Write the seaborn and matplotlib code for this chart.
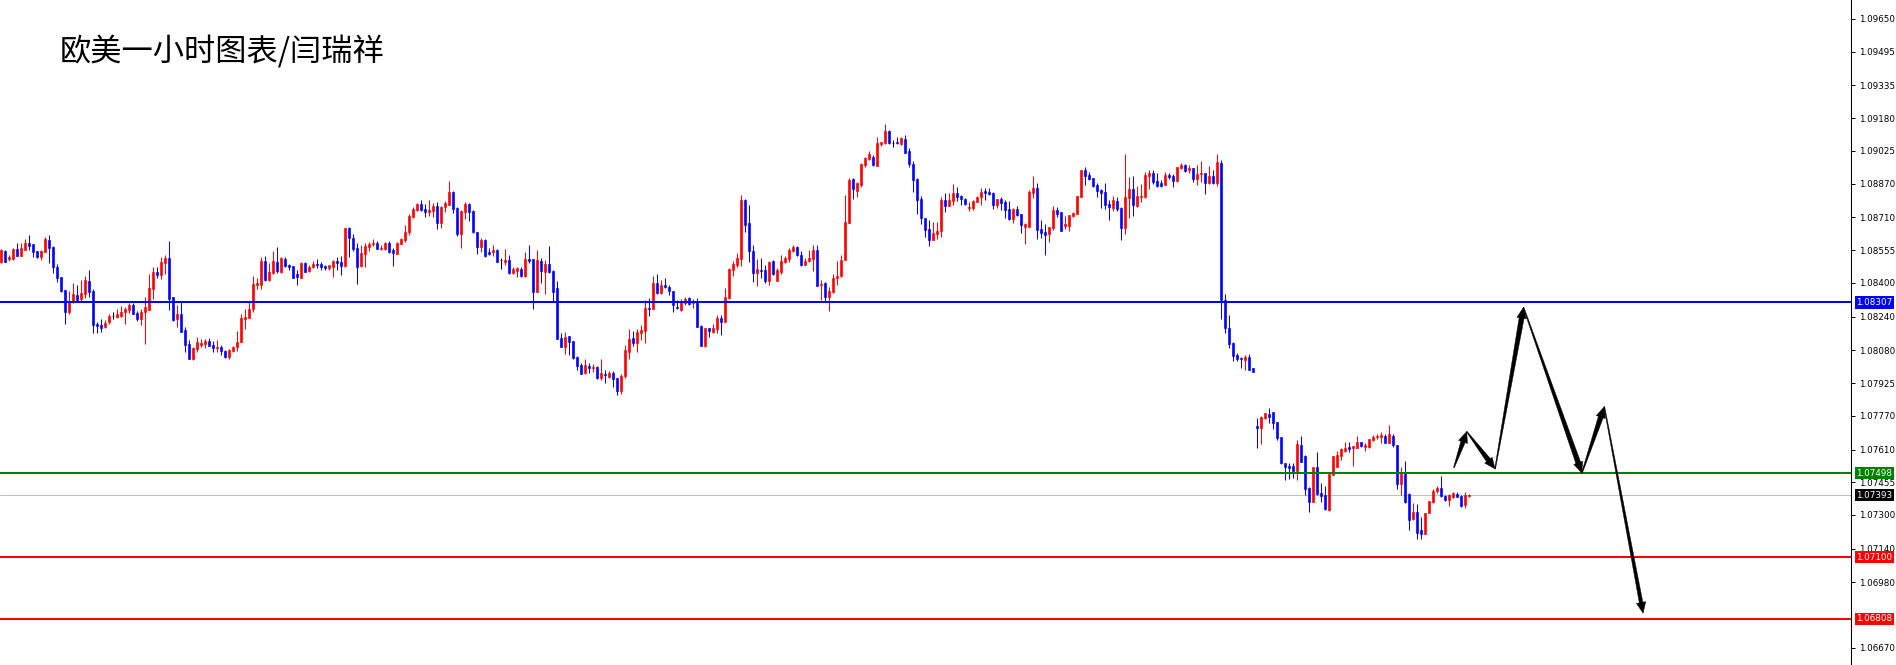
import numpy as np
import matplotlib
matplotlib.use("Agg")
import matplotlib.pyplot as plt
from matplotlib.patches import Polygon
from matplotlib.transforms import IdentityTransform, blended_transform_factory
import seaborn as sns

# EURUSD H1 candles
opens = [
    1.08500, 1.08552, 1.08511, 1.08512, 1.08560, 1.08527, 1.08555, 1.08587, 1.08582, 1.08550,
    1.08523, 1.08547, 1.08602, 1.08571, 1.08476, 1.08429, 1.08365, 1.08260, 1.08310, 1.08342,
    1.08321, 1.08346, 1.08410, 1.08361, 1.08207, 1.08199, 1.08192, 1.08212, 1.08242, 1.08239,
    1.08242, 1.08263, 1.08271, 1.08294, 1.08258, 1.08228, 1.08260, 1.08271, 1.08372, 1.08451,
    1.08437, 1.08492, 1.08516, 1.08332, 1.08228, 1.08252, 1.08176, 1.08109, 1.08038, 1.08086,
    1.08106, 1.08109, 1.08122, 1.08105, 1.08092, 1.08095, 1.08078, 1.08048, 1.08078, 1.08094,
    1.08121, 1.08230, 1.08231, 1.08275, 1.08391, 1.08391, 1.08503, 1.08413, 1.08448, 1.08500,
    1.08451, 1.08512, 1.08485, 1.08479, 1.08441, 1.08424, 1.08492, 1.08455, 1.08473, 1.08489,
    1.08487, 1.08481, 1.08468, 1.08476, 1.08503, 1.08497, 1.08479, 1.08662, 1.08613, 1.08564,
    1.08479, 1.08538, 1.08571, 1.08582, 1.08587, 1.08560, 1.08561, 1.08588, 1.08555, 1.08538,
    1.08585, 1.08602, 1.08639, 1.08713, 1.08745, 1.08773, 1.08748, 1.08735, 1.08740, 1.08764,
    1.08685, 1.08757, 1.08771, 1.08832, 1.08753, 1.08629, 1.08737, 1.08773, 1.08741, 1.08640,
    1.08571, 1.08602, 1.08546, 1.08547, 1.08557, 1.08506, 1.08498, 1.08508, 1.08448, 1.08457,
    1.08465, 1.08432, 1.08512, 1.08511, 1.08358, 1.08501, 1.08452, 1.08489, 1.08455, 1.08376,
    1.08139, 1.08097, 1.08147, 1.08124, 1.08049, 1.08010, 1.07974, 1.08005, 1.07997, 1.08002,
    1.07951, 1.07970, 1.07955, 1.07974, 1.07948, 1.07888, 1.07960, 1.08073, 1.08138, 1.08116,
    1.08163, 1.08173, 1.08282, 1.08275, 1.08399, 1.08353, 1.08388, 1.08380, 1.08359, 1.08286,
    1.08271, 1.08302, 1.08327, 1.08302, 1.08309, 1.08195, 1.08100, 1.08184, 1.08166, 1.08179,
    1.08231, 1.08212, 1.08326, 1.08460, 1.08484, 1.08512, 1.08794, 1.08681, 1.08550, 1.08448,
    1.08463, 1.08460, 1.08408, 1.08503, 1.08408, 1.08449, 1.08498, 1.08514, 1.08553, 1.08569,
    1.08530, 1.08484, 1.08504, 1.08514, 1.08555, 1.08388, 1.08397, 1.08334, 1.08356, 1.08421,
    1.08432, 1.08506, 1.08681, 1.08890, 1.08836, 1.08863, 1.08958, 1.08986, 1.08997, 1.08955,
    1.09057, 1.09061, 1.09119, 1.09064, 1.09069, 1.09057, 1.09081, 1.09024, 1.08963, 1.08892,
    1.08797, 1.08707, 1.08655, 1.08602, 1.08632, 1.08645, 1.08792, 1.08764, 1.08789, 1.08825,
    1.08811, 1.08797, 1.08756, 1.08756, 1.08784, 1.08805, 1.08835, 1.08830, 1.08825, 1.08768,
    1.08797, 1.08783, 1.08749, 1.08702, 1.08749, 1.08726, 1.08666, 1.08666, 1.08824, 1.08849,
    1.08655, 1.08639, 1.08631, 1.08659, 1.08745, 1.08735, 1.08669, 1.08670, 1.08716, 1.08726,
    1.08806, 1.08934, 1.08911, 1.08895, 1.08863, 1.08839, 1.08830, 1.08773, 1.08756, 1.08787,
    1.08753, 1.08661, 1.08803, 1.08844, 1.08764, 1.08808, 1.08808, 1.08907, 1.08920, 1.08882,
    1.08873, 1.08863, 1.08911, 1.08904, 1.08884, 1.08942, 1.08956, 1.08934, 1.08944, 1.08890,
    1.08914, 1.08920, 1.08874, 1.08906, 1.08874, 1.08970, 1.08318, 1.08184, 1.08116, 1.08057,
    1.08044, 1.08033, 1.08049, 1.07997, 1.07722, 1.07714, 1.07761, 1.07780, 1.07787, 1.07741,
    1.07668, 1.07548, 1.07531, 1.07531, 1.07506, 1.07632, 1.07580, 1.07427, 1.07359, 1.07529,
    1.07403, 1.07395, 1.07324, 1.07490, 1.07526, 1.07580, 1.07603, 1.07624, 1.07616, 1.07619,
    1.07645, 1.07624, 1.07624, 1.07656, 1.07668, 1.07671, 1.07675, 1.07643, 1.07675, 1.07632,
    1.07445, 1.07494, 1.07400, 1.07280, 1.07316, 1.07229, 1.07210, 1.07308, 1.07359, 1.07414,
    1.07427, 1.07392, 1.07371, 1.07387, 1.07400, 1.07392, 1.07348, 1.07389,
]
highs = [
    1.08558, 1.08555, 1.08531, 1.08563, 1.08587, 1.08587, 1.08606, 1.08626, 1.08582, 1.08550,
    1.08555, 1.08615, 1.08626, 1.08574, 1.08489, 1.08429, 1.08365, 1.08361, 1.08400, 1.08389,
    1.08413, 1.08432, 1.08460, 1.08369, 1.08215, 1.08228, 1.08223, 1.08252, 1.08260, 1.08278,
    1.08290, 1.08286, 1.08305, 1.08305, 1.08267, 1.08278, 1.08334, 1.08441, 1.08476, 1.08473,
    1.08523, 1.08531, 1.08599, 1.08332, 1.08294, 1.08307, 1.08192, 1.08128, 1.08097, 1.08141,
    1.08133, 1.08132, 1.08138, 1.08124, 1.08128, 1.08105, 1.08081, 1.08087, 1.08102, 1.08171,
    1.08250, 1.08274, 1.08307, 1.08432, 1.08421, 1.08523, 1.08527, 1.08492, 1.08552, 1.08571,
    1.08520, 1.08523, 1.08489, 1.08479, 1.08460, 1.08498, 1.08497, 1.08484, 1.08503, 1.08512,
    1.08498, 1.08484, 1.08484, 1.08508, 1.08523, 1.08527, 1.08662, 1.08666, 1.08629, 1.08587,
    1.08577, 1.08587, 1.08593, 1.08606, 1.08599, 1.08580, 1.08593, 1.08598, 1.08563, 1.08591,
    1.08610, 1.08674, 1.08726, 1.08760, 1.08779, 1.08792, 1.08773, 1.08792, 1.08776, 1.08783,
    1.08765, 1.08789, 1.08882, 1.08836, 1.08760, 1.08745, 1.08784, 1.08779, 1.08745, 1.08640,
    1.08610, 1.08606, 1.08563, 1.08577, 1.08561, 1.08516, 1.08560, 1.08531, 1.08473, 1.08476,
    1.08476, 1.08544, 1.08579, 1.08514, 1.08555, 1.08517, 1.08508, 1.08574, 1.08460, 1.08408,
    1.08163, 1.08165, 1.08150, 1.08125, 1.08053, 1.08018, 1.08038, 1.08018, 1.08015, 1.08005,
    1.08038, 1.07986, 1.07983, 1.07980, 1.07948, 1.07970, 1.08105, 1.08179, 1.08171, 1.08179,
    1.08198, 1.08318, 1.08327, 1.08433, 1.08441, 1.08413, 1.08421, 1.08388, 1.08362, 1.08318,
    1.08321, 1.08334, 1.08331, 1.08321, 1.08329, 1.08198, 1.08188, 1.08187, 1.08206, 1.08247,
    1.08247, 1.08376, 1.08468, 1.08504, 1.08539, 1.08816, 1.08798, 1.08767, 1.08577, 1.08511,
    1.08516, 1.08484, 1.08503, 1.08508, 1.08468, 1.08534, 1.08527, 1.08566, 1.08577, 1.08574,
    1.08553, 1.08516, 1.08555, 1.08577, 1.08579, 1.08413, 1.08403, 1.08378, 1.08443, 1.08501,
    1.08531, 1.08816, 1.08898, 1.08895, 1.08879, 1.08969, 1.08997, 1.09026, 1.09005, 1.09092,
    1.09069, 1.09152, 1.09124, 1.09076, 1.09092, 1.09089, 1.09100, 1.09037, 1.08977, 1.08895,
    1.08811, 1.08707, 1.08697, 1.08688, 1.08689, 1.08808, 1.08825, 1.08824, 1.08868, 1.08855,
    1.08816, 1.08803, 1.08783, 1.08792, 1.08811, 1.08849, 1.08850, 1.08847, 1.08828, 1.08797,
    1.08808, 1.08792, 1.08787, 1.08756, 1.08764, 1.08727, 1.08685, 1.08839, 1.08907, 1.08874,
    1.08697, 1.08678, 1.08664, 1.08764, 1.08757, 1.08735, 1.08716, 1.08721, 1.08737, 1.08811,
    1.08934, 1.08950, 1.08926, 1.08895, 1.08871, 1.08843, 1.08871, 1.08792, 1.08811, 1.08808,
    1.08760, 1.09010, 1.08903, 1.08906, 1.08860, 1.08868, 1.08926, 1.08934, 1.08934, 1.08922,
    1.08887, 1.08926, 1.08922, 1.08914, 1.08950, 1.08969, 1.08961, 1.08958, 1.08945, 1.08958,
    1.08977, 1.08922, 1.08953, 1.08934, 1.09010, 1.08981, 1.08346, 1.08247, 1.08120, 1.08065,
    1.08049, 1.08060, 1.08062, 1.07997, 1.07761, 1.07769, 1.07785, 1.07806, 1.07787, 1.07741,
    1.07668, 1.07548, 1.07545, 1.07548, 1.07656, 1.07675, 1.07583, 1.07431, 1.07529, 1.07596,
    1.07453, 1.07438, 1.07493, 1.07580, 1.07605, 1.07616, 1.07648, 1.07648, 1.07627, 1.07675,
    1.07648, 1.07640, 1.07662, 1.07679, 1.07682, 1.07695, 1.07684, 1.07727, 1.07682, 1.07632,
    1.07526, 1.07556, 1.07403, 1.07355, 1.07352, 1.07289, 1.07311, 1.07368, 1.07423, 1.07438,
    1.07485, 1.07393, 1.07400, 1.07411, 1.07411, 1.07395, 1.07408, 1.07398,
]
lows = [
    1.08495, 1.08498, 1.08504, 1.08508, 1.08527, 1.08527, 1.08555, 1.08555, 1.08523, 1.08517,
    1.08508, 1.08544, 1.08492, 1.08448, 1.08402, 1.08358, 1.08207, 1.08252, 1.08305, 1.08313,
    1.08315, 1.08326, 1.08334, 1.08163, 1.08163, 1.08168, 1.08187, 1.08204, 1.08230, 1.08231,
    1.08236, 1.08204, 1.08258, 1.08252, 1.08217, 1.08201, 1.08109, 1.08271, 1.08323, 1.08422,
    1.08419, 1.08441, 1.08271, 1.08218, 1.08192, 1.08168, 1.08072, 1.08037, 1.08034, 1.08073,
    1.08097, 1.08092, 1.08102, 1.08070, 1.08072, 1.08060, 1.08046, 1.08040, 1.08072, 1.08078,
    1.08121, 1.08182, 1.08231, 1.08263, 1.08369, 1.08369, 1.08408, 1.08410, 1.08441, 1.08448,
    1.08448, 1.08476, 1.08463, 1.08424, 1.08389, 1.08424, 1.08451, 1.08451, 1.08470, 1.08468,
    1.08460, 1.08460, 1.08463, 1.08427, 1.08460, 1.08437, 1.08476, 1.08522, 1.08552, 1.08395,
    1.08476, 1.08474, 1.08550, 1.08576, 1.08558, 1.08557, 1.08555, 1.08542, 1.08479, 1.08536,
    1.08582, 1.08591, 1.08626, 1.08705, 1.08741, 1.08741, 1.08713, 1.08716, 1.08713, 1.08655,
    1.08661, 1.08737, 1.08768, 1.08729, 1.08621, 1.08564, 1.08700, 1.08692, 1.08634, 1.08536,
    1.08547, 1.08520, 1.08531, 1.08527, 1.08498, 1.08465, 1.08484, 1.08444, 1.08441, 1.08429,
    1.08429, 1.08429, 1.08495, 1.08277, 1.08358, 1.08400, 1.08345, 1.08446, 1.08310, 1.08133,
    1.08094, 1.08062, 1.08060, 1.08038, 1.07986, 1.07970, 1.07970, 1.07974, 1.07978, 1.07945,
    1.07939, 1.07926, 1.07950, 1.07907, 1.07868, 1.07875, 1.07950, 1.08037, 1.08102, 1.08073,
    1.08128, 1.08116, 1.08244, 1.08275, 1.08346, 1.08345, 1.08375, 1.08340, 1.08260, 1.08274,
    1.08267, 1.08294, 1.08297, 1.08282, 1.08192, 1.08100, 1.08097, 1.08144, 1.08160, 1.08160,
    1.08152, 1.08212, 1.08323, 1.08433, 1.08476, 1.08481, 1.08642, 1.08498, 1.08403, 1.08386,
    1.08421, 1.08400, 1.08389, 1.08436, 1.08408, 1.08444, 1.08492, 1.08500, 1.08547, 1.08527,
    1.08479, 1.08482, 1.08500, 1.08457, 1.08386, 1.08318, 1.08310, 1.08266, 1.08354, 1.08389,
    1.08429, 1.08506, 1.08681, 1.08797, 1.08808, 1.08855, 1.08950, 1.08982, 1.08953, 1.08953,
    1.09050, 1.09057, 1.09057, 1.09042, 1.09057, 1.09053, 1.09013, 1.08950, 1.08832, 1.08726,
    1.08678, 1.08618, 1.08576, 1.08602, 1.08609, 1.08618, 1.08737, 1.08764, 1.08768, 1.08787,
    1.08770, 1.08770, 1.08741, 1.08745, 1.08781, 1.08770, 1.08792, 1.08816, 1.08749, 1.08756,
    1.08745, 1.08705, 1.08697, 1.08685, 1.08716, 1.08637, 1.08583, 1.08666, 1.08803, 1.08609,
    1.08613, 1.08531, 1.08593, 1.08650, 1.08713, 1.08647, 1.08656, 1.08647, 1.08713, 1.08726,
    1.08806, 1.08863, 1.08887, 1.08855, 1.08808, 1.08753, 1.08748, 1.08697, 1.08740, 1.08740,
    1.08602, 1.08631, 1.08705, 1.08716, 1.08760, 1.08784, 1.08800, 1.08844, 1.08866, 1.08855,
    1.08855, 1.08863, 1.08892, 1.08855, 1.08879, 1.08937, 1.08926, 1.08922, 1.08879, 1.08863,
    1.08879, 1.08820, 1.08866, 1.08868, 1.08860, 1.08228, 1.08163, 1.08089, 1.08030, 1.08030,
    1.07994, 1.07989, 1.07986, 1.07978, 1.07619, 1.07637, 1.07754, 1.07735, 1.07708, 1.07656,
    1.07542, 1.07466, 1.07469, 1.07474, 1.07466, 1.07550, 1.07395, 1.07316, 1.07359, 1.07395,
    1.07359, 1.07324, 1.07321, 1.07487, 1.07526, 1.07561, 1.07600, 1.07600, 1.07532, 1.07616,
    1.07624, 1.07603, 1.07616, 1.07652, 1.07659, 1.07643, 1.07640, 1.07640, 1.07624, 1.07422,
    1.07395, 1.07355, 1.07229, 1.07276, 1.07185, 1.07188, 1.07210, 1.07308, 1.07355, 1.07403,
    1.07387, 1.07368, 1.07344, 1.07379, 1.07384, 1.07338, 1.07335, 1.07384,
]
closes = [
    1.08555, 1.08500, 1.08523, 1.08560, 1.08527, 1.08564, 1.08587, 1.08576, 1.08547, 1.08522,
    1.08552, 1.08607, 1.08566, 1.08476, 1.08424, 1.08361, 1.08263, 1.08310, 1.08346, 1.08318,
    1.08350, 1.08413, 1.08358, 1.08199, 1.08196, 1.08187, 1.08211, 1.08244, 1.08242, 1.08250,
    1.08264, 1.08277, 1.08294, 1.08252, 1.08228, 1.08263, 1.08286, 1.08376, 1.08451, 1.08437,
    1.08500, 1.08517, 1.08323, 1.08226, 1.08252, 1.08168, 1.08106, 1.08038, 1.08089, 1.08119,
    1.08116, 1.08125, 1.08102, 1.08090, 1.08095, 1.08078, 1.08049, 1.08081, 1.08097, 1.08121,
    1.08233, 1.08239, 1.08275, 1.08394, 1.08400, 1.08503, 1.08413, 1.08451, 1.08503, 1.08455,
    1.08516, 1.08481, 1.08476, 1.08424, 1.08429, 1.08492, 1.08451, 1.08476, 1.08489, 1.08482,
    1.08473, 1.08468, 1.08482, 1.08503, 1.08495, 1.08479, 1.08659, 1.08613, 1.08560, 1.08476,
    1.08539, 1.08574, 1.08585, 1.08588, 1.08561, 1.08566, 1.08587, 1.08547, 1.08539, 1.08588,
    1.08607, 1.08640, 1.08716, 1.08748, 1.08773, 1.08745, 1.08735, 1.08745, 1.08764, 1.08685,
    1.08757, 1.08776, 1.08830, 1.08749, 1.08631, 1.08740, 1.08773, 1.08737, 1.08640, 1.08571,
    1.08602, 1.08527, 1.08538, 1.08557, 1.08500, 1.08506, 1.08508, 1.08448, 1.08465, 1.08468,
    1.08432, 1.08512, 1.08503, 1.08358, 1.08508, 1.08457, 1.08489, 1.08449, 1.08358, 1.08133,
    1.08097, 1.08144, 1.08121, 1.08045, 1.08005, 1.07970, 1.08010, 1.07997, 1.08002, 1.07948,
    1.07972, 1.07963, 1.07974, 1.07945, 1.07888, 1.07960, 1.08081, 1.08136, 1.08117, 1.08166,
    1.08176, 1.08279, 1.08275, 1.08400, 1.08350, 1.08389, 1.08378, 1.08359, 1.08293, 1.08280,
    1.08315, 1.08323, 1.08301, 1.08309, 1.08192, 1.08102, 1.08185, 1.08171, 1.08185, 1.08231,
    1.08215, 1.08334, 1.08465, 1.08489, 1.08516, 1.08792, 1.08675, 1.08550, 1.08448, 1.08465,
    1.08457, 1.08408, 1.08498, 1.08444, 1.08460, 1.08501, 1.08519, 1.08555, 1.08571, 1.08530,
    1.08482, 1.08504, 1.08517, 1.08555, 1.08386, 1.08392, 1.08334, 1.08361, 1.08421, 1.08432,
    1.08506, 1.08686, 1.08887, 1.08843, 1.08871, 1.08963, 1.08990, 1.09008, 1.08956, 1.09064,
    1.09065, 1.09119, 1.09061, 1.09064, 1.09061, 1.09084, 1.09016, 1.08961, 1.08887, 1.08792,
    1.08705, 1.08650, 1.08602, 1.08637, 1.08645, 1.08792, 1.08764, 1.08792, 1.08825, 1.08805,
    1.08797, 1.08775, 1.08760, 1.08787, 1.08808, 1.08830, 1.08827, 1.08819, 1.08768, 1.08797,
    1.08778, 1.08745, 1.08700, 1.08749, 1.08721, 1.08673, 1.08678, 1.08830, 1.08849, 1.08650,
    1.08637, 1.08626, 1.08664, 1.08745, 1.08726, 1.08647, 1.08677, 1.08721, 1.08730, 1.08811,
    1.08934, 1.08907, 1.08890, 1.08858, 1.08836, 1.08824, 1.08768, 1.08760, 1.08792, 1.08749,
    1.08661, 1.08805, 1.08844, 1.08768, 1.08811, 1.08811, 1.08911, 1.08920, 1.08876, 1.08858,
    1.08860, 1.08911, 1.08901, 1.08884, 1.08948, 1.08956, 1.08929, 1.08944, 1.08892, 1.08915,
    1.08920, 1.08873, 1.08906, 1.08871, 1.08972, 1.08318, 1.08184, 1.08109, 1.08054, 1.08037,
    1.08037, 1.08049, 1.07989, 1.07978, 1.07714, 1.07766, 1.07782, 1.07766, 1.07738, 1.07664,
    1.07545, 1.07529, 1.07524, 1.07506, 1.07637, 1.07553, 1.07422, 1.07359, 1.07529, 1.07400,
    1.07392, 1.07327, 1.07493, 1.07580, 1.07585, 1.07611, 1.07619, 1.07613, 1.07627, 1.07648,
    1.07627, 1.07632, 1.07659, 1.07668, 1.07675, 1.07679, 1.07643, 1.07682, 1.07632, 1.07445,
    1.07494, 1.07359, 1.07276, 1.07316, 1.07213, 1.07210, 1.07308, 1.07366, 1.07414, 1.07427,
    1.07390, 1.07371, 1.07395, 1.07403, 1.07387, 1.07344, 1.07395, 1.07393,
]

# support / resistance levels and the current bid
level_prices = [1.08307, 1.07498, 1.07100, 1.06808]
level_colors = ["#0000ff", "#008000", "#ff0000", "#ff0000"]
bid_price = 1.07393

tick_prices = [1.09650, 1.09495, 1.09335, 1.09180, 1.09025, 1.08870, 1.08710, 1.08555,
               1.08400, 1.08240, 1.08080, 1.07925, 1.07770, 1.07610, 1.07455, 1.07300,
               1.07140, 1.06980, 1.06670]

# drawn forecast path (bar number, price)
path_bars = [363.3, 366.5, 373.6, 380.7, 395.3, 400.9, 410.6]
path_prices = [1.07524, 1.07695, 1.07518, 1.08284, 1.07498, 1.07813, 1.06834]
# tail width near the head of each arrow leg, in pixels
path_widths = [4.5, 5.0, 5.0, 5.0, 5.0, 3.6]

title = "欧美一小时图表/闫瑞祥"

sns.set_theme(style="white")
plt.rcParams["font.family"] = ["DejaVu Sans"]

W, H = 1896, 665
fig = plt.figure(figsize=(W / 100, H / 100), dpi=100)
ax = fig.add_axes([0, 0, 1851 / W, 1])
ax.set_facecolor("white")

o = np.array(opens)
hi = np.array(highs)
lo = np.array(lows)
c = np.array(closes)
x = np.arange(len(o))
cols = np.where(c > o, "#ff0000", np.where(c < o, "#0000ff", "#000000"))

ax.vlines(x, lo, hi, colors=cols, linewidth=0.75, zorder=2)
ax.bar(x, np.abs(c - o), bottom=np.minimum(o, c), width=0.6, color=cols,
       edgecolor=cols, linewidth=0.45, zorder=2)

ax.set_xlim(-0.175, 462.575)
ax.set_ylim(1.06589, 1.09740)

for p, col in zip(level_prices, level_colors):
    ax.axhline(p, color=col, linewidth=1.45, zorder=3)
ax.axhline(bid_price, color="#c0c0c0", linewidth=0.75, zorder=1)

# axis on the right, like the terminal
for s in ["left", "top", "bottom"]:
    ax.spines[s].set_visible(False)
ax.spines["right"].set_color("black")
ax.spines["right"].set_linewidth(0.75)
ax.set_xticks([])
ax.yaxis.tick_right()
ax.set_yticks(tick_prices)
ax.set_yticklabels([f"{t:.5f}" for t in tick_prices])
ax.tick_params(axis="y", direction="out", length=3, width=0.7, pad=2.5,
               labelsize=6.3, colors="black")
ax.grid(False)

trans = blended_transform_factory(ax.transAxes, ax.transData)
box_items = list(zip(level_prices, level_colors)) + [(bid_price, "#000000")]
for p, col in box_items:
    ax.text(1.0028, p, f"{p:.5f}", transform=trans, ha="left", va="center",
            fontsize=6.3, color="white", clip_on=False, zorder=6,
            bbox=dict(boxstyle="square,pad=0.18", fc=col, ec="none"))

fig.text(60 / W, 1 - 52 / H, title, ha="left", va="center", fontsize=22.5,
         color="black", family=["Noto Sans CJK SC", "DejaVu Sans"])


def tapered_arrow(p0, p1, w_end, head_len=11.0, head_w=9.5):
    s = ax.transData.transform(p0)
    e = ax.transData.transform(p1)
    d = e - s
    u = d / np.hypot(*d)
    n = np.array([-u[1], u[0]])
    b = e - u * head_len
    pts = [s + n * 0.4, b + n * w_end / 2, b + n * head_w / 2, e,
           b - n * head_w / 2, b - n * w_end / 2, s - n * 0.4]
    fig.add_artist(Polygon(pts, closed=True, transform=IdentityTransform(),
                           fc="black", ec="black", lw=0.3, zorder=5))


for i in range(len(path_bars) - 1):
    tapered_arrow((path_bars[i], path_prices[i]),
                  (path_bars[i + 1], path_prices[i + 1]), path_widths[i])

fig.savefig("out.png", dpi=100, facecolor="white")
